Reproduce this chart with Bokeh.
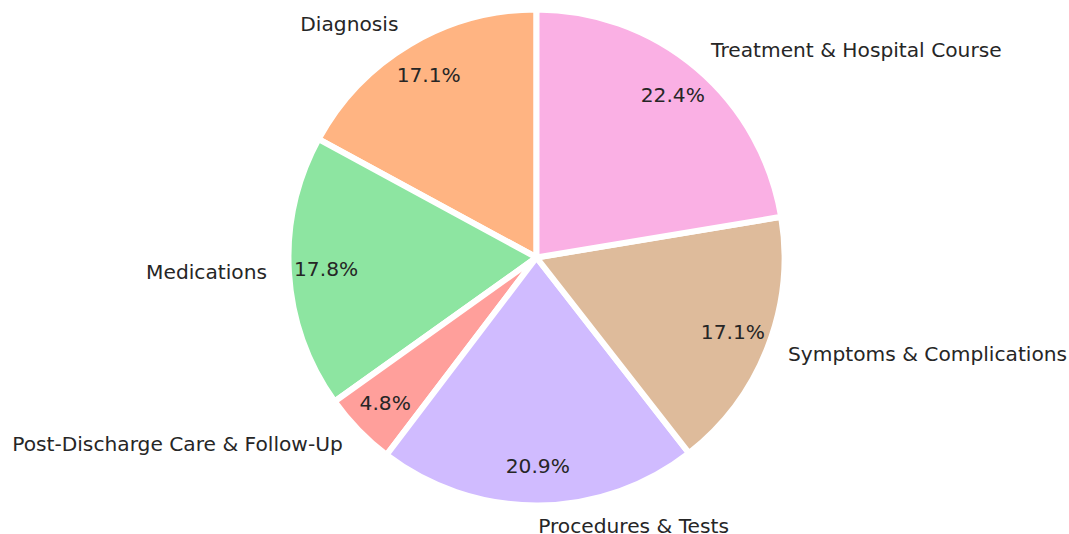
import math
from bokeh.plotting import figure
from bokeh.models import Range1d, ColumnDataSource
from bokeh.core.properties import value
from bokeh.embed import file_html
from bokeh.resources import INLINE

categories = ["Diagnosis", "Medications", "Post-Discharge Care & Follow-Up",
              "Procedures & Tests", "Symptoms & Complications", "Treatment & Hospital Course"]
shares = [17.1, 17.8, 4.8, 20.9, 17.1, 22.4]
colors = ["#ffb482", "#8de5a1", "#ff9f9b", "#d0bbff", "#debb9b", "#fab0e4"]

W, H = 1069, 534
CX, CY = 536.0, 257.0   # pie centre in figure pixels
R = 248.0               # pie radius in pixels
START = 90.0
LABEL_DIST = 270.0 / 248.0
PCT_DIST = 0.85
FONT = "20.2px"
SHIFT = -1.8            # px, moves text slightly up

total = sum(shares)
starts, ends, mids = [], [], []
a = START
for v in shares:
    span = 360.0 * v / total
    starts.append(math.radians(a))
    ends.append(math.radians(a + span))
    mids.append(math.radians(a + span / 2))
    a += span

p = figure(width=W, height=H, output_backend="svg", toolbar_location=None,
           x_range=Range1d(-CX / R, (W - CX) / R),
           y_range=Range1d(-(H - CY) / R, CY / R),
           min_border=0, background_fill_color="white", border_fill_color="white")
p.axis.visible = False
p.grid.visible = False
p.outline_line_color = None

src = ColumnDataSource(dict(start=starts, end=ends, color=colors))
p.wedge(x=0, y=0, radius=1.0, start_angle="start", end_angle="end",
        fill_color="color", line_color="white", line_width=6, source=src)

lx = [LABEL_DIST * math.cos(m) for m in mids]
ly = [LABEL_DIST * math.sin(m) for m in mids]
la = ["left" if x > 0 else "right" for x in lx]
lsrc = ColumnDataSource(dict(x=lx, y=ly, t=categories, a=la))
p.text(x="x", y="y", text="t", text_align="a", text_baseline="middle",
       y_offset=SHIFT,
       text_font=value("DejaVu Sans"), text_font_size=FONT, text_color="#262626",
       source=lsrc)

px = [PCT_DIST * math.cos(m) for m in mids]
py = [PCT_DIST * math.sin(m) for m in mids]
pt = ["%.1f%%" % (100.0 * v / total) for v in shares]
psrc = ColumnDataSource(dict(x=px, y=py, t=pt))
p.text(x="x", y="y", text="t", text_align="center", text_baseline="middle",
       y_offset=SHIFT,
       text_font=value("DejaVu Sans"), text_font_size=FONT, text_color="#262626",
       source=psrc)

open("out.html", "w").write(file_html(p, INLINE))
